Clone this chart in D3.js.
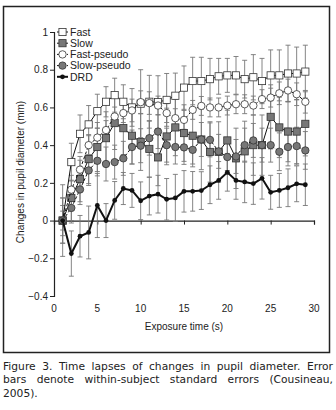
<!DOCTYPE html>
<html>
<head>
<meta charset="utf-8">
<script src="https://cdn.jsdelivr.net/npm/d3@7"></script>
<style>
  body { margin: 0; background: #fff; }
  svg { display: block; }
</style>
</head>
<body>
<div id="vis"></div>
<script>
// exposure time (s)
const times = [1, 2, 3, 4, 5, 6, 7, 8, 9, 10, 11, 12, 13, 14, 15, 16, 17, 18, 19, 20, 21, 22, 23, 24, 25, 26, 27, 28, 29];

const fast = [0, 0.31, 0.46, 0.51, 0.58, 0.63, 0.665, 0.63, 0.60, 0.62, 0.63, 0.628, 0.64, 0.662, 0.705, 0.74, 0.74, 0.75, 0.765, 0.77, 0.77, 0.75, 0.76, 0.74, 0.77, 0.77, 0.78, 0.78, 0.79];
const slow = [0, 0.12, 0.22, 0.326, 0.39, 0.437, 0.517, 0.49, 0.45, 0.416, 0.38, 0.335, 0.446, 0.494, 0.464, 0.45, 0.43, 0.364, 0.364, 0.425, 0.33, 0.367, 0.40, 0.40, 0.55, 0.494, 0.472, 0.472, 0.513];
const fastPseudo = [0, 0.164, 0.27, 0.40, 0.44, 0.48, 0.552, 0.57, 0.584, 0.628, 0.623, 0.61, 0.57, 0.543, 0.534, 0.587, 0.608, 0.60, 0.60, 0.61, 0.617, 0.617, 0.61, 0.644, 0.652, 0.675, 0.69, 0.67, 0.63];
const slowPseudo = [0, 0.067, 0.165, 0.266, 0.317, 0.30, 0.31, 0.33, 0.39, 0.397, 0.437, 0.472, 0.40, 0.39, 0.388, 0.375, 0.43, 0.428, 0.367, 0.337, 0.34, 0.40, 0.425, 0.40, 0.40, 0.365, 0.39, 0.395, 0.372];
const drd = [0, -0.175, -0.083, -0.063, 0.08, 0, 0.107, 0.17, 0.16, 0.105, 0.13, 0.14, 0.113, 0.12, 0.155, 0.155, 0.159, 0.19, 0.213, 0.256, 0.213, 0.205, 0.196, 0.224, 0.15, 0.16, 0.174, 0.195, 0.19];

// within-subject standard errors
const fastErr = [0.12, 0.10, 0.10, 0.10, 0.09, 0.08, 0.09, 0.09, 0.10, 0.18, 0.14, 0.14, 0.14, 0.12, 0.115, 0.126, 0.126, 0.11, 0.095, 0.09, 0.10, 0.10, 0.12, 0.12, 0.135, 0.135, 0.15, 0.14, 0.14];
const slowErr = [0.12, 0.12, 0.12, 0.13, 0.13, 0.14, 0.14, 0.14, 0.15, 0.15, 0.15, 0.15, 0.15, 0.15, 0.15, 0.15, 0.16, 0.16, 0.16, 0.16, 0.16, 0.16, 0.16, 0.16, 0.17, 0.16, 0.16, 0.17, 0.17];
const fastPseudoErr = [0.05, 0.05, 0.05, 0.05, 0.05, 0.05, 0.05, 0.05, 0.06, 0.06, 0.06, 0.05, 0.05, 0.05, 0.05, 0.05, 0.05, 0.05, 0.05, 0.05, 0.05, 0.05, 0.05, 0.05, 0.05, 0.06, 0.06, 0.06, 0.06];
const slowPseudoErr = [0.08, 0.08, 0.08, 0.08, 0.08, 0.09, 0.09, 0.09, 0.09, 0.09, 0.09, 0.09, 0.09, 0.09, 0.09, 0.09, 0.09, 0.09, 0.09, 0.09, 0.09, 0.09, 0.09, 0.09, 0.09, 0.10, 0.10, 0.10, 0.10];
const drdErr = [0.19, 0.12, 0.11, 0.14, 0.17, 0.09, 0.10, 0.085, 0.09, 0.10, 0.10, 0.10, 0.11, 0.125, 0.11, 0.105, 0.10, 0.10, 0.10, 0.10, 0.10, 0.11, 0.11, 0.11, 0.09, 0.09, 0.10, 0.095, 0.11];

const xTicks = [0, 5, 10, 15, 20, 25, 30];
const yTicks = [-0.4, -0.2, 0, 0.2, 0.4, 0.6, 0.8, 1];

const captionLines = [
  "Figure 3. Time lapses of changes in pupil diameter. Error",
  "bars denote within-subject standard errors (Cousineau,",
  "2005)."
];

const series = [
  {name: 'Fast', values: fast, err: fastErr, shape: 'square', fill: '#fff', dash: null, lw: 1},
  {name: 'Slow', values: slow, err: slowErr, shape: 'square', fill: '#777', dash: null, lw: 1},
  {name: 'Fast-pseudo', values: fastPseudo, err: fastPseudoErr, shape: 'circle', fill: '#fff', dash: '3,2', lw: 1},
  {name: 'Slow-pseudo', values: slowPseudo, err: slowPseudoErr, shape: 'circle', fill: '#777', dash: '3,2', lw: 1},
  {name: 'DRD', values: drd, err: drdErr, shape: 'dot', fill: '#111', dash: null, lw: 2}
];

const width = 336, height = 410;
const svg = d3.select('#vis').append('svg')
  .attr('width', width)
  .attr('height', height);

// frame round the figure
svg.append('rect')
  .attr('x', 3.5).attr('y', 6.5)
  .attr('width', 326).attr('height', 346)
  .attr('fill', 'none')
  .attr('stroke', '#222')
  .attr('stroke-width', 1.5);

const xScale = d3.scaleLinear().domain([0, 30]).range([54, 314]);
const yScale = d3.scaleLinear().domain([-0.4, 1]).range([296, 32]);

const font = 'Liberation Sans, Arial, sans-serif';
const g = svg.append('g');

// y axis
const yAxis = g.append('g')
  .attr('transform', 'translate(' + xScale(0) + ',0)')
  .call(d3.axisLeft(yScale).tickValues(yTicks).tickSize(4).tickPadding(2)
    .tickFormat(d => d === 0 ? '0' : d === 1 ? '1' : d3.format('.1f')(d).replace('-', '\u2212')));
yAxis.select('.domain').attr('stroke', '#222').attr('stroke-width', 1.2);
yAxis.selectAll('.tick line').attr('stroke', '#222');
yAxis.selectAll('text').attr('font-family', font).attr('font-size', 10).attr('fill', '#222');

// x axis sits at zero, labels down at the bottom
const xAxis = g.append('g')
  .attr('transform', 'translate(0,' + yScale(0) + ')')
  .call(d3.axisBottom(xScale).tickValues(xTicks).tickSize(4).tickFormat(''));
xAxis.select('.domain').attr('stroke', '#222').attr('stroke-width', 1.2);
xAxis.selectAll('.tick line').attr('stroke', '#222');

g.selectAll('text.xlab')
  .data(xTicks)
  .enter()
  .append('text')
  .attr('class', 'xlab')
  .attr('x', d => xScale(d))
  .attr('y', 312)
  .attr('text-anchor', 'middle')
  .attr('font-family', font).attr('font-size', 10).attr('fill', '#222')
  .text(d => d);

g.append('text')
  .attr('x', 184).attr('y', 330)
  .attr('text-anchor', 'middle')
  .attr('font-family', font).attr('font-size', 10).attr('fill', '#222')
  .text('Exposure time (s)');

g.append('text')
  .attr('transform', 'translate(24,172) rotate(-90)')
  .attr('text-anchor', 'middle')
  .attr('font-family', font).attr('font-size', 10).attr('fill', '#222')
  .text('Changes in pupil diameter (mm)');

// error bars first, then lines and markers on top
const cap = 2.5;
series.forEach(s => {
  const eb = g.append('g').attr('stroke', '#777').attr('stroke-width', 0.9);
  s.values.forEach((v, i) => {
    const x = xScale(times[i]);
    const y0 = yScale(v - s.err[i]), y1 = yScale(v + s.err[i]);
    eb.append('line').attr('x1', x).attr('x2', x).attr('y1', y0).attr('y2', y1);
    eb.append('line').attr('x1', x - cap).attr('x2', x + cap).attr('y1', y0).attr('y2', y0);
    eb.append('line').attr('x1', x - cap).attr('x2', x + cap).attr('y1', y1).attr('y2', y1);
  });
});

const line = d3.line()
  .x((d, i) => xScale(times[i]))
  .y(d => yScale(d));

function drawMarker(sel, s, x, y) {
  if (s.shape === 'square') {
    sel.append('rect')
      .attr('x', x - 3.6).attr('y', y - 3.6)
      .attr('width', 7.2).attr('height', 7.2)
      .attr('fill', s.fill).attr('stroke', '#333').attr('stroke-width', 0.8);
  } else if (s.shape === 'circle') {
    sel.append('circle')
      .attr('cx', x).attr('cy', y).attr('r', 3.7)
      .attr('fill', s.fill).attr('stroke', '#333').attr('stroke-width', 0.8);
  } else {
    sel.append('circle')
      .attr('cx', x).attr('cy', y).attr('r', 2.4)
      .attr('fill', s.fill);
  }
}

series.forEach(s => {
  g.append('path')
    .attr('d', line(s.values))
    .attr('fill', 'none')
    .attr('stroke', '#111')
    .attr('stroke-width', s.lw)
    .attr('stroke-dasharray', s.dash);
  const m = g.append('g');
  s.values.forEach((v, i) => drawMarker(m, s, xScale(times[i]), yScale(v)));
});

// legend
const legend = g.append('g');
series.forEach((s, i) => {
  const y = 32 + i * 11.2;
  legend.append('line')
    .attr('x1', 57).attr('x2', 68).attr('y1', y).attr('y2', y)
    .attr('stroke', '#111').attr('stroke-width', s.lw)
    .attr('stroke-dasharray', s.dash);
  drawMarker(legend, s, 62.5, y);
  legend.append('text')
    .attr('x', 70).attr('y', y + 3.8)
    .attr('font-family', font).attr('font-size', 10.5).attr('fill', '#222')
    .text(s.name);
});

// caption, justified like the printed page
const capFont = 'DejaVu Sans, Verdana, sans-serif';
const capLeft = 3, capRight = 333;
captionLines.forEach((txt, li) => {
  const y = 369.5 + li * 13.5;
  const words = txt.split(' ');
  const t = svg.append('g');
  const nodes = words.map(w => t.append('text')
    .attr('y', y)
    .attr('font-family', capFont).attr('font-size', 10.7).attr('fill', '#222')
    .text(w));
  const widths = nodes.map(n => n.node().getComputedTextLength());
  const total = d3.sum(widths);
  const last = li === captionLines.length - 1;
  let gap = last || words.length < 2 ? 3.4 : (capRight - capLeft - total) / (words.length - 1);
  if (gap < 2) gap = 2;
  let x = capLeft;
  nodes.forEach((n, k) => { n.attr('x', x); x += widths[k] + gap; });
});
</script>
</body>
</html>
